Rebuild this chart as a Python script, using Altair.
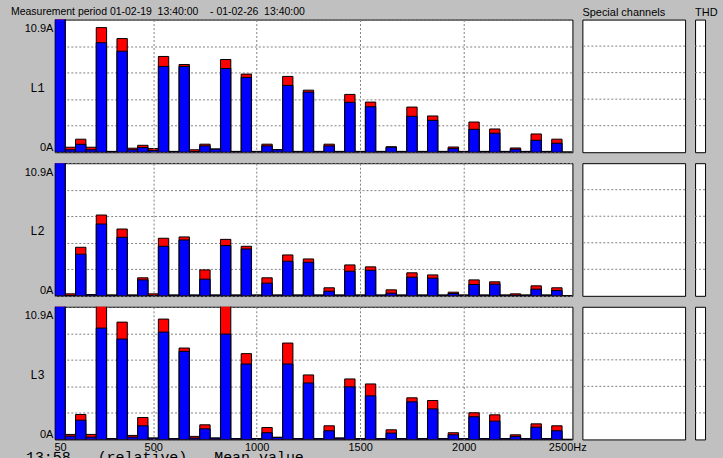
import altair as alt
import pandas as pd

# harmonic order 1..50 (50 Hz fundamental)
orders = list(range(1, 51))
freqs = [n * 50 for n in orders]

l1_mean = [14, 0.2, 0.65, 0.2, 9.0, 0.05, 8.3, 0.2, 0.38, 0.15,
           7.05, 0.05, 7.05, 0.05, 0.52, 0.25, 6.88, 0.05, 6.15, 0.05,
           0.52, 0.2, 5.49, 0.05, 4.94, 0.05, 0.52, 0.05, 4.1, 0.05,
           3.74, 0.05, 0.41, 0.05, 2.95, 0.05, 2.62, 0.05, 0.3, 0.05,
           1.88, 0.05, 1.56, 0.05, 0.25, 0.05, 0.98, 0.05, 0.74, 0.0]
l1_max = [15, 0.41, 1.07, 0.41, 10.24, 0.07, 9.34, 0.33, 0.57, 0.3,
          7.87, 0.07, 7.21, 0.2, 0.66, 0.27, 7.62, 0.07, 6.42, 0.07,
          0.66, 0.22, 6.23, 0.07, 5.1, 0.07, 0.66, 0.07, 4.75, 0.07,
          4.12, 0.07, 0.45, 0.07, 3.71, 0.07, 2.98, 0.07, 0.43, 0.07,
          2.48, 0.07, 1.91, 0.07, 0.35, 0.07, 1.5, 0.07, 1.07, 0.0]

l2_mean = [14, 0.02, 3.42, 0.08, 5.9, 0.05, 4.81, 0.05, 1.31, 0.03,
           4.07, 0.05, 4.59, 0.05, 1.37, 0.05, 4.13, 0.05, 3.85, 0.05,
           1.04, 0.05, 2.84, 0.05, 2.76, 0.05, 0.38, 0.05, 2.02, 0.05,
           2.1, 0.05, 0.22, 0.05, 1.53, 0.05, 1.45, 0.05, 0.19, 0.05,
           0.93, 0.05, 0.96, 0.05, 0.05, 0.05, 0.55, 0.05, 0.44, 0.0]
l2_max = [15, 0.16, 3.99, 0.1, 6.64, 0.07, 5.49, 0.07, 1.48, 0.16,
          4.73, 0.07, 4.84, 0.07, 2.13, 0.07, 4.64, 0.07, 4.07, 0.07,
          1.48, 0.07, 3.36, 0.07, 3.03, 0.07, 0.66, 0.07, 2.54, 0.07,
          2.38, 0.07, 0.49, 0.07, 1.89, 0.07, 1.72, 0.07, 0.3, 0.07,
          1.31, 0.07, 1.15, 0.07, 0.16, 0.07, 0.82, 0.07, 0.66, 0.0]

l3_mean = [14, 0.27, 1.58, 0.19, 9.15, 0.05, 8.25, 0.19, 1.12, 0.1,
           8.82, 0.05, 7.24, 0.11, 0.87, 0.1, 8.66, 0.05, 6.2, 0.05,
           0.55, 0.16, 6.2, 0.05, 4.64, 0.05, 0.71, 0.1, 4.32, 0.05,
           3.58, 0.05, 0.52, 0.05, 3.09, 0.05, 2.51, 0.05, 0.38, 0.05,
           1.86, 0.05, 1.5, 0.05, 0.25, 0.05, 1.01, 0.05, 0.71, 0.0]
l3_max = [15, 0.41, 2.05, 0.41, 11.5, 0.07, 9.64, 0.33, 1.8, 0.12,
          9.89, 0.07, 7.51, 0.25, 1.2, 0.12, 11.5, 0.07, 7.05, 0.07,
          0.98, 0.18, 7.92, 0.07, 5.3, 0.07, 1.12, 0.12, 4.97, 0.07,
          4.56, 0.07, 0.79, 0.07, 3.42, 0.07, 3.2, 0.07, 0.55, 0.07,
          2.19, 0.07, 2.02, 0.07, 0.38, 0.07, 1.28, 0.07, 1.12, 0.0]

phases = ["L1", "L2", "L3"]
y_max = 10.9
y_grid = [0, 2.18, 4.36, 6.54, 8.72, 10.9]
x_ticks = [50, 500, 1000, 1500, 2000, 2500]
title_main = "Measurement period 01-02-19 \u00a013:40:00 \u00a0\u00a0\u00a0- 01-02-26 \u00a013:40:00"
status_text = "13:58 \u00a0\u00a0(relative) \u00a0\u00a0Mean value"

rows = []
for ph, mn, mx in zip(phases, [l1_mean, l2_mean, l3_mean], [l1_max, l2_max, l3_max]):
    for f, a, b in zip(freqs, mn, mx):
        rows.append({"phase": ph, "freq": f, "mean": a, "max": b})
df = pd.DataFrame(rows)
grid_df = pd.DataFrame({"v": y_grid[1:-1]})

W_MAIN, W_SP, W_THD, H = 519, 103, 10, 133
FONT = "Liberation Sans"

def main_panel(ph, bottom):
    x_axis = alt.Axis(values=x_ticks, labels=bottom, ticks=False, domain=False,
                      title=None, grid=True, gridDash=[2, 2], gridColor="#808080",
                      gridOpacity={"condition": {"test": "datum.value == 50 || datum.value == 2500", "value": 0}, "value": 1},
                      labelExpr="datum.value == 2500 ? '2500Hz' : '' + datum.value",
                      labelPadding=2, labelFontSize=11, zindex=1)
    y_axis = alt.Axis(values=y_grid, labelExpr="datum.value == 0 ? '0A' : (datum.value > 10 ? '10.9A' : '')",
                      labelFlush=True, ticks=False, tickSize=0, domain=False, grid=True,
                      gridDash=[2, 2], gridColor="#808080", labelPadding=2,
                      labelOffset={"condition": {"test": "datum.value > 10", "value": 3}, "value": 0},
                      title=ph, titleAngle=0, titleX=-18, titleY=68, titleFont="Liberation Mono",
                      titleFontSize=12, titleFontWeight="normal", titleAlign="center",
                      titleBaseline="middle")
    xs = alt.Scale(domain=[25, 2525], nice=False, zero=False)
    ys = alt.Scale(domain=[0, y_max], nice=False)
    base = alt.Chart(df).transform_filter(alt.datum.phase == ph).transform_calculate(
        lo="datum.freq - 25", hi="datum.freq + 25")
    red = base.mark_bar(color="#ff0000", stroke="black", strokeWidth=1, clip=True).encode(
        x=alt.X("lo:Q", scale=xs, axis=x_axis), x2="hi:Q",
        y=alt.Y("max:Q", scale=ys, axis=y_axis), y2=alt.datum(0))
    blue = base.mark_bar(color="#0000ff", stroke="black", strokeWidth=1, clip=True).encode(
        x=alt.X("lo:Q", scale=xs, axis=x_axis), x2="hi:Q",
        y=alt.Y("mean:Q", scale=ys, axis=y_axis), y2=alt.datum(0))
    layers = [red, blue]
    if bottom:
        txt = alt.Chart(pd.DataFrame({"t": [status_text]})).mark_text(
            font="Liberation Mono", fontSize=15, align="left", baseline="alphabetic",
            color="black").encode(text="t:N", x=alt.value(-29), y=alt.value(156))
        layers.append(txt)
    ch = alt.layer(*layers).properties(width=W_MAIN, height=H)
    if ph == "L1":
        ch = ch.properties(title=alt.TitleParams(text=title_main, dx=-44, frame="group",
                                                 fontSize=10.5))
    return ch

def side_panel(w, title):
    ch = alt.Chart(grid_df).mark_rule(strokeDash=[2, 2], color="#808080", strokeWidth=1).encode(
        y=alt.Y("v:Q", scale=alt.Scale(domain=[0, y_max], nice=False), axis=None)
    ).properties(width=w, height=H)
    if title:
        ch = ch.properties(title=alt.TitleParams(text=title, dx=0, frame="group"))
    return ch

charts = []
for i, ph in enumerate(phases):
    charts.append(main_panel(ph, i == 2))
    charts.append(side_panel(W_SP, "Special channels" if i == 0 else None))
    charts.append(side_panel(W_THD, "THD" if i == 0 else None))

chart = alt.concat(*charts, columns=3, spacing={"row": 11, "column": 10}, bounds="flush").configure(
    background="#c0c0c0", padding={"left": 10, "top": 5, "right": 4, "bottom": -5}
).configure_view(stroke="black", strokeWidth=1, fill="white").configure_axis(
    labelFont=FONT, labelFontSize=11, labelColor="black"
).configure_title(font=FONT, fontSize=11, fontWeight="normal", anchor="start",
                  color="black", baseline="alphabetic", offset=2)

chart.save("out.html", embed_options={"renderer": "svg", "actions": False})
